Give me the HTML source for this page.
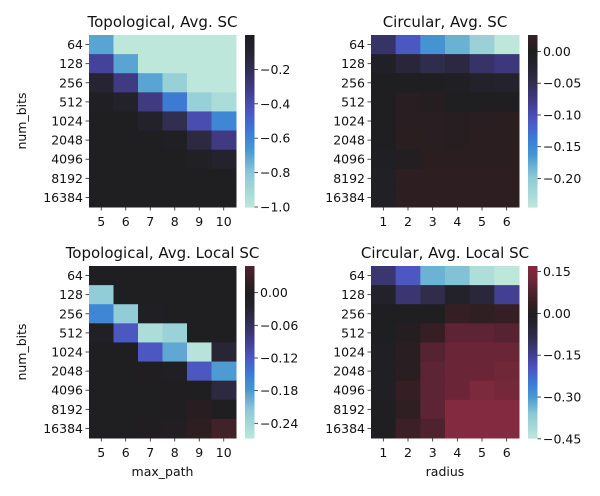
<!DOCTYPE html>
<html><head><meta charset="utf-8">
<style>
body{margin:0;background:#fff;}
svg{display:block;font-family:"DejaVu Sans","Liberation Sans",sans-serif;}
</style></head>
<body>
<svg id="fig" width="600" height="496" viewBox="0 0 600 496" xmlns="http://www.w3.org/2000/svg"></svg>
<script>
const rowLabels = ["64","128","256","512","1024","2048","4096","8192","16384"];
const topoCols = ["5","6","7","8","9","10"];
const circCols = ["1","2","3","4","5","6"];
const topoAvg = [
 [-0.7,-1,-1,-1,-1,-1],
 [-0.35,-0.7,-1,-1,-1,-1],
 [-0.1,-0.3,-0.7,-0.85,-1,-1],
 [-0.02,-0.07,-0.3,-0.55,-0.85,-0.93],
 [0,0,-0.06,-0.2,-0.4,-0.6],
 [0,0,0,-0.02,-0.15,-0.3],
 [0,0,0,0,-0.03,-0.08],
 [0,0,0,0,0,0],
 [0,0,0,0,0,0]];
const circAvg = [
 [-0.06,-0.11,-0.16,-0.18,-0.21,-0.245],
 [-0.01,-0.03,-0.045,-0.035,-0.06,-0.07],
 [0,0,0,-0.005,-0.015,-0.02],
 [0,0.01,0.005,0,0,0],
 [0,0.01,0.01,0.008,0.01,0.012],
 [0,0.012,0.01,0.008,0.012,0.012],
 [-0.005,0.003,0.012,0.012,0.012,0.012],
 [-0.008,0.015,0.015,0.015,0.015,0.015],
 [-0.008,0.015,0.015,0.015,0.015,0.015]];
const topoLocal = [
 [0,0,0,0,0,0],
 [-0.22,0,0,0,0,0],
 [-0.16,-0.22,-0.005,0,0,0],
 [-0.01,-0.12,-0.25,-0.23,0,0],
 [0,0,-0.12,-0.19,-0.26,-0.03],
 [0,0,0.002,-0.005,-0.12,-0.18],
 [0,0,0,0.002,0,-0.04],
 [0,0,0,0.002,0.01,0],
 [0,0,0.002,0.005,0.015,0.035]];
const circLocal = [
 [-0.12,-0.2,-0.33,-0.35,-0.42,-0.45],
 [-0.03,-0.12,-0.08,-0.03,-0.06,-0.15],
 [0,0,0,0.04,0.03,0.04],
 [0,0.01,0.04,0.1,0.1,0.09],
 [-0.005,0.02,0.09,0.12,0.12,0.12],
 [-0.005,0.02,0.1,0.12,0.12,0.13],
 [-0.005,0.04,0.1,0.12,0.15,0.14],
 [0,0.03,0.1,0.17,0.17,0.17],
 [0,0.05,0.08,0.17,0.17,0.17]];
const ticksTA = [-0.2,-0.4,-0.6,-0.8,-1.0];
const ticksCA = [0.00,-0.05,-0.10,-0.15,-0.20];
const ticksTL = [0.00,-0.06,-0.12,-0.18,-0.24];
const ticksCL = [0.15,0.00,-0.15,-0.30,-0.45];

const NS="http://www.w3.org/2000/svg";
const svg=document.getElementById('fig');
const stops=[[0,[189,231,219]],[0.1,[140,200,214]],[0.17,[70,150,210]],[0.22,[58,125,214]],[0.28,[77,85,192]],[0.34,[65,60,140]],[0.40,[50,46,80]],[0.46,[36,34,44]],[0.5,[31,30,33]],[0.53,[45,30,33]],[0.6,[85,35,50]],[0.65,[115,40,58]],[0.69,[132,42,64]],[0.8,[200,55,65]],[1,[255,235,180]]];
function cmap(t){t=Math.max(0,Math.min(1,t));for(let i=1;i<stops.length;i++){if(t<=stops[i][0]){const a=stops[i-1],b=stops[i];const f=(t-a[0])/(b[0]-a[0]);const c=a[1].map((v,k)=>Math.round(v+(b[1][k]-v)*f));return `rgb(${c[0]},${c[1]},${c[2]})`;}}return 'rgb(255,235,180)';}
function el(tag,attrs,parent){const e=document.createElementNS(NS,tag);for(const k in attrs)e.setAttribute(k,attrs[k]);(parent||svg).appendChild(e);return e;}
function fmt(v,d){const s=Math.abs(v).toFixed(d);return (v<0?'\u2212':'')+s;}

function panel(p){
 const g=el('g',{});
 
 
 const nr=rowLabels.length,nc=p.cols.length;
 const cw=(p.x1-p.x0)/nc,rh=(p.y1-p.y0)/nr;
 const vr=Math.max(p.vmax,-p.vmin);
 const tval=v=>(v+vr)/(2*vr);
 const xs=i=>p.x0+i*cw, ys=j=>p.y0+j*rh;
 for(let j=0;j<nr;j++)for(let i=0;i<nc;i++){
  const r=el('rect',{x:xs(i),y:ys(j),width:cw+0.5,height:rh+0.5,fill:cmap(tval(p.data[j][i]))},g);
  
  
 }
 const t=el('text',{x:(p.x0+p.x1)/2,y:p.y0-8,'text-anchor':'middle','font-size':15,fill:'#111'},g);t.textContent=p.title;
 
 
 for(let j=0;j<nr;j++){
  const y=ys(j)+rh/2;
  el('line',{x1:p.x0-3.5,x2:p.x0,y1:y,y2:y,stroke:'#222','stroke-width':0.8},g);
  const l=el('text',{x:p.x0-6,y:y+4.5,'text-anchor':'end','font-size':12.5,fill:'#111'},g);l.textContent=rowLabels[j];
  
  
 }
 for(let i=0;i<nc;i++){
  const x=xs(i)+cw/2;
  el('line',{x1:x,x2:x,y1:p.y1,y2:p.y1+3.5,stroke:'#222','stroke-width':0.8},g);
  const l=el('text',{x:x,y:p.y1+19,'text-anchor':'middle','font-size':12.5,fill:'#111'},g);l.textContent=p.cols[i];
  
  
 }
 const cb=el('g',{},g);
 
 
 const cy=v=>p.y1-(v-p.vmin)/(p.vmax-p.vmin)*(p.y1-p.y0);
 const N=100;
 for(let k=0;k<N;k++){
  const v0=p.vmin+(p.vmax-p.vmin)*k/N,v1=p.vmin+(p.vmax-p.vmin)*(k+1)/N;
  el('rect',{x:p.cbx,y:cy(v1),width:9.5,height:cy(v0)-cy(v1)+0.6,fill:cmap(tval((v0+v1)/2))},cb);
 }
 p.ticks.forEach(v=>{
  const y=cy(v);
  el('line',{x1:p.cbx+9.5,x2:p.cbx+13,y1:y,y2:y,stroke:'#222','stroke-width':0.8},cb);
  const l=el('text',{x:p.cbx+15,y:y+4.5,'font-size':12.5,fill:'#111'},cb);l.textContent=fmt(v,p.dec);
  
  
 });
 if(p.ylabel){const l=el('text',{x:0,y:0,transform:`translate(26,${(p.y0+p.y1)/2}) rotate(-90)`,'text-anchor':'middle','font-size':12.5,fill:'#111'},g);l.textContent=p.ylabel;
  
  }
 if(p.xlabel){const l=el('text',{x:(p.x0+p.x1)/2,y:p.y1+38,'text-anchor':'middle','font-size':12.5,fill:'#111'},g);l.textContent=p.xlabel;
  
  }
}
panel({name:'heatmap-topological-avg-sc',title:'Topological, Avg. SC',data:topoAvg,cols:topoCols,x0:89,x1:236,y0:35,y1:207,cbx:245,vmin:-1,vmax:0,ticks:ticksTA,dec:1,ylabel:'num_bits'});
panel({name:'heatmap-circular-avg-sc',title:'Circular, Avg. SC',data:circAvg,cols:circCols,x0:371,x1:519,y0:35,y1:207,cbx:528,vmin:-0.245,vmax:0.026,ticks:ticksCA,dec:2});
panel({name:'heatmap-topological-avg-local-sc',title:'Topological, Avg. Local SC',data:topoLocal,cols:topoCols,x0:89,x1:236,y0:266,y1:438,cbx:245,vmin:-0.267,vmax:0.049,ticks:ticksTL,dec:2,ylabel:'num_bits',xlabel:'max_path'});
panel({name:'heatmap-circular-avg-local-sc',title:'Circular, Avg. Local SC',data:circLocal,cols:circCols,x0:371,x1:519,y0:266,y1:438,cbx:528,vmin:-0.447,vmax:0.17,ticks:ticksCL,dec:2,xlabel:'radius'});
</script>
</body></html>
